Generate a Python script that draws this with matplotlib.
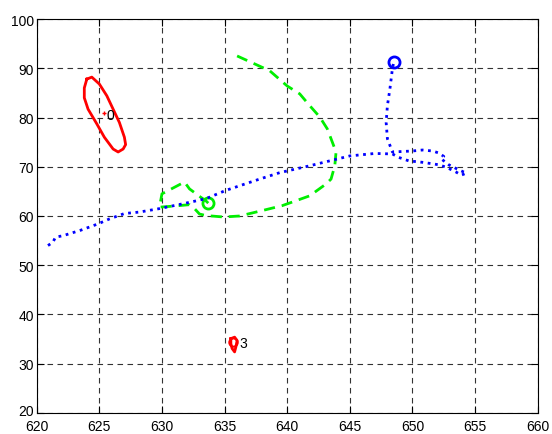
import numpy as np
import matplotlib
matplotlib.use('Agg')
import matplotlib.pyplot as plt
import matplotlib.transforms as mtransforms

plt.rcParams['font.family'] = ['Liberation Sans', 'DejaVu Sans']

# track 0 (red, closed loop)
red0_x = [624.0, 624.4, 625.0, 625.6, 626.1, 626.6, 627.0, 627.1, 626.9, 626.5, 626.1,
          625.4, 624.8, 624.1, 623.8, 623.8, 624.0]
red0_y = [87.8, 88.2, 86.8, 84.4, 81.7, 79.0, 76.0, 74.5, 73.6, 73.0, 73.6,
          76.0, 78.7, 81.7, 84.0, 86.0, 87.8]
red0_mark = (625.4, 80.9)

# track 3 (red, small loop)
red3_x = [635.5, 635.8, 636.0, 635.9, 635.8, 635.6, 635.5, 635.5]
red3_y = [35.1, 35.4, 34.7, 33.4, 32.4, 33.1, 34.1, 35.1]
red3_mark = (635.7, 34.4)

# green track
green_x = [636.0, 638.6, 640.0, 641.0, 641.8, 642.6, 643.2, 643.9, 643.8, 643.5,
           643.1, 641.8, 639.6, 638.0, 636.2, 634.9, 633.5, 633.0, 632.6, 632.2,
           630.9, 629.8, 630.0, 631.8, 632.2, 633.1, 633.5, 633.7]
green_y = [92.5, 89.5, 86.4, 84.8, 82.4, 80.1, 77.7, 73.0, 70.2, 67.5,
           66.5, 64.1, 62.1, 61.1, 60.0, 59.8, 60.1, 60.4, 61.5, 62.3,
           62.0, 61.8, 64.5, 66.9, 65.5, 63.8, 63.1, 62.6]

# blue track
blue_x = [620.9, 621.3, 621.5, 622.1, 623.5, 624.9, 625.8, 627.0, 628.2, 629.8,
          631.7, 633.5, 635.1, 637.8, 639.4, 641.8, 645.0, 647.0, 648.4,
          648.9, 649.7, 650.8, 651.6, 652.1, 652.7, 653.1, 653.5, 653.9, 654.3,
          653.6, 652.9, 652.3, 652.5, 652.1, 651.6, 650.8, 650.0, 649.2, 648.4,
          648.0, 647.9, 648.0, 648.2, 648.4, 648.5]
blue_y = [54.0, 54.7, 55.7, 56.0, 57.1, 58.4, 59.4, 60.5, 60.8, 61.5,
          62.5, 63.5, 65.2, 67.5, 68.8, 70.2, 72.2, 72.7, 72.6,
          71.9, 71.2, 70.9, 70.6, 70.4, 69.9, 69.4, 68.9, 68.3, 68.7,
          69.5, 70.4, 71.6, 72.1, 72.8, 73.2, 73.4, 73.2, 73.1, 73.0,
          75.7, 79.0, 82.4, 85.8, 89.9, 91.2]

labels = ['0', '3']
label_pos = [(625.6, 80.5), (636.2, 34.2)]

fig = plt.figure(figsize=(5.52, 4.35), dpi=100)
ax = fig.add_axes([0.0665, 0.0483, 0.9076, 0.9057])

ax.plot(red0_x, red0_y, '-', color='red', lw=2)
ax.plot(*red0_mark, '+', color='red', ms=3, mew=1)
ax.plot(red3_x, red3_y, '-', color='red', lw=2)
ax.plot(*red3_mark, 'o', color='red', mfc='none', ms=6, mew=1.5)

ax.plot(green_x, green_y, '--', color='#00ee00', lw=2, dashes=(4, 2.5))
ax.plot(green_x[-1], green_y[-1], 'o', color='#00ee00', mfc='none', ms=8, mew=2)

ax.plot(blue_x, blue_y, ':', color='blue', lw=2)
ax.plot(blue_x[-1], blue_y[-1], 'o', color='blue', mfc='none', ms=8, mew=2)

for t, (tx, ty) in zip(labels, label_pos):
    ax.text(tx, ty, t, fontsize=10, ha='left', va='center', color='black')

ax.set_xlim(620, 660)
ax.set_ylim(20, 100)
ax.set_xticks(np.arange(620, 661, 5))
ax.set_yticks(np.arange(20, 101, 10))
ax.tick_params(direction='in', length=5, top=True, right=True, labelsize=10)
ax.tick_params(axis='x', pad=4)
ax.tick_params(axis='y', pad=2)
ax.grid(True, color='0.2', lw=0.8, linestyle=(0, (5, 4)))
for s in ax.spines.values():
    s.set_linewidth(0.8)

# lift the bottom y label a touch so it clears the first x label
lab = ax.get_yticklabels()[0]
lab.set_transform(lab.get_transform() + mtransforms.ScaledTranslation(0, 2.5 / 72, fig.dpi_scale_trans))

fig.savefig('out.png', dpi=100)
